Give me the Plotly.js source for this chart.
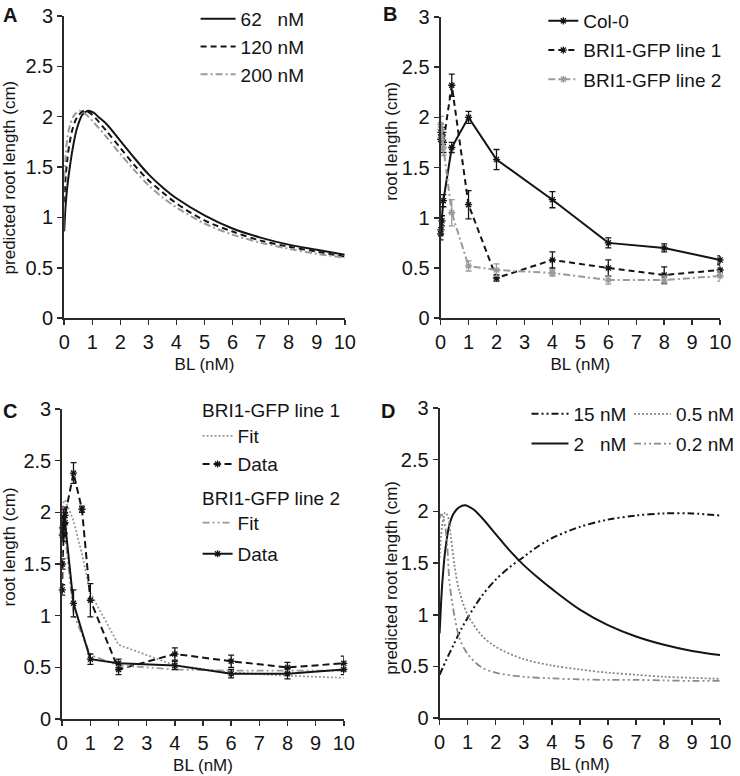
<!DOCTYPE html>
<html><head><meta charset="utf-8">
<script src="https://cdn.plot.ly/plotly-3.0.1.min.js"></script>
<style>html,body{margin:0;padding:0;background:#fff}#chart{width:740px;height:776px}</style>
</head><body><div id="chart"></div><script>
// ---------- Panel A: predicted root length ----------
const xA62 = [0, 0.05, 0.12, 0.2, 0.3, 0.45, 0.65, 0.85, 1.05, 1.25, 1.5, 2, 2.5, 3, 3.5, 4, 5, 6, 7, 8, 9, 10];
const yA62 = [0.86, 1.12, 1.33, 1.5, 1.68, 1.88, 2.02, 2.06, 2.04, 1.99, 1.93, 1.76, 1.59, 1.43, 1.30, 1.19, 1.02, 0.89, 0.80, 0.73, 0.68, 0.63];
const xA120 = [0, 0.05, 0.12, 0.2, 0.3, 0.45, 0.7, 0.9, 1.1, 1.5, 2, 2.5, 3, 3.5, 4, 5, 6, 7, 8, 9, 10];
const yA120 = [1.15, 1.4, 1.6, 1.75, 1.88, 1.99, 2.06, 2.04, 1.99, 1.86, 1.69, 1.52, 1.37, 1.25, 1.14, 0.97, 0.86, 0.77, 0.71, 0.66, 0.61];
const xA200 = [0, 0.05, 0.12, 0.2, 0.3, 0.4, 0.55, 0.75, 1, 1.5, 2, 2.5, 3, 3.5, 4, 5, 6, 7, 8, 9, 10];
const yA200 = [1.4, 1.62, 1.8, 1.91, 1.99, 2.03, 2.06, 2.03, 1.96, 1.8, 1.63, 1.47, 1.32, 1.2, 1.1, 0.94, 0.83, 0.75, 0.69, 0.64, 0.60];
const namesA = ['62\u00A0\u00A0\u00A0nM', '120 nM', '200 nM'];

// ---------- Panel B: measured root length ----------
const xB = [0, 0.01, 0.05, 0.1, 0.4, 1, 2, 4, 6, 8, 10];
const bCol0 = [0.84, 0.88, 0.97, 1.17, 1.70, 2.00, 1.58, 1.18, 0.75, 0.70, 0.58];
const bCol0Err = [0.06, 0.05, 0.05, 0.06, 0.05, 0.06, 0.10, 0.08, 0.05, 0.04, 0.04];
const bLine1 = [1.78, 1.85, 1.82, 1.75, 2.32, 1.13, 0.40, 0.58, 0.50, 0.43, 0.48];
const bLine1Err = [0.10, 0.08, 0.08, 0.10, 0.11, 0.14, 0.03, 0.08, 0.08, 0.08, 0.05];
const bLine2 = [1.93, 1.88, 1.80, 1.70, 1.05, 0.52, 0.48, 0.45, 0.38, 0.38, 0.42];
const bLine2Err = [0.08, 0.06, 0.06, 0.08, 0.13, 0.05, 0.06, 0.03, 0.04, 0.04, 0.05];
const namesB = ['Col-0', 'BRI1-GFP line 1', 'BRI1-GFP line 2'];

// ---------- Panel C: fit vs data ----------
const xC1 = [0, 0.01, 0.05, 0.1, 0.4, 0.7, 1, 2, 4, 6, 8, 10];
const cLine1Data = [1.25, 1.50, 1.78, 1.97, 2.38, 2.03, 1.15, 0.48, 0.63, 0.56, 0.50, 0.54];
const cLine1Err = [0.05, 0.05, 0.06, 0.08, 0.10, 0.03, 0.16, 0.05, 0.06, 0.06, 0.05, 0.07];
const cLine1Fit = [2.05, 2.07, 2.10, 2.12, 1.92, 1.60, 1.22, 0.72, 0.52, 0.45, 0.42, 0.40];
const xC2 = [0, 0.01, 0.05, 0.1, 0.4, 1, 2, 4, 6, 8, 10];
const cLine2Data = [1.78, 1.85, 1.95, 1.90, 1.12, 0.58, 0.54, 0.52, 0.44, 0.44, 0.48];
const cLine2Err = [0.06, 0.06, 0.08, 0.10, 0.13, 0.05, 0.04, 0.04, 0.04, 0.05, 0.05];
const cLine2Fit = [2.05, 2.00, 1.90, 1.78, 1.02, 0.62, 0.52, 0.48, 0.47, 0.47, 0.47];
const groupC = ['BRI1-GFP line 1', 'BRI1-GFP line 2'];

// ---------- Panel D: predicted root length ----------
const xD15 = [0, 0.25, 0.5, 0.75, 1, 1.5, 2, 2.5, 3, 3.5, 4, 5, 6, 7, 8, 9, 10];
const yD15 = [0.42, 0.57, 0.71, 0.85, 0.97, 1.18, 1.34, 1.46, 1.56, 1.66, 1.74, 1.85, 1.92, 1.96, 1.98, 1.98, 1.96];
const xD2 = [0, 0.05, 0.1, 0.2, 0.35, 0.5, 0.7, 0.9, 1.2, 1.5, 2, 2.5, 3, 3.5, 4, 5, 6, 7, 8, 9, 10];
const yD2 = [0.82, 1.10, 1.32, 1.62, 1.87, 1.98, 2.04, 2.06, 2.02, 1.94, 1.78, 1.62, 1.48, 1.36, 1.25, 1.05, 0.90, 0.79, 0.71, 0.65, 0.61];
const xD05 = [0, 0.05, 0.1, 0.2, 0.3, 0.4, 0.53, 0.7, 1, 1.5, 2, 3, 4, 5, 6, 7, 8, 9, 10];
const yD05 = [1.55, 1.75, 1.88, 1.99, 1.95, 1.76, 1.48, 1.23, 1.00, 0.80, 0.69, 0.57, 0.51, 0.47, 0.44, 0.42, 0.40, 0.39, 0.38];
const xD02 = [0, 0.05, 0.1, 0.2, 0.27, 0.35, 0.45, 0.55, 0.7, 1, 1.5, 2, 3, 4, 5, 6, 7, 8, 9, 10];
const yD02 = [1.93, 1.97, 1.96, 1.85, 1.68, 1.32, 1.12, 0.96, 0.78, 0.62, 0.49, 0.44, 0.40, 0.385, 0.375, 0.37, 0.37, 0.365, 0.36, 0.36];
const namesD = ['15 nM', '2\u00A0\u00A0\u00A0nM', '0.5 nM', '0.2 nM'];

const xTitle = 'BL (nM)';
const yTitlePred = 'predicted root length (cm)';
const yTitleRoot = 'root length (cm)';

// ---------- styles ----------
const BLACK = '#141414', GRAY = '#9a9a9a', GRAY2 = '#8a8a8a';
const FONT = 'Liberation Sans, Arial, Helvetica, sans-serif';
const W = 740, H = 776;
const px = v => v / W, py = v => 1 - v / H;

function curve(x, y, name, xa, ya, color, dash, legend, group, width) {
  return {x, y, name, xaxis: xa, yaxis: ya, type: 'scatter', mode: 'lines',
    line: {color, dash, width: width || 2, shape: 'spline', smoothing: 0.9},
    legend, legendgroup: group, cliponaxis: false, hoverinfo: 'skip'};
}
function data(x, y, err, name, xa, ya, color, dash, legend, group) {
  return {x, y, name, xaxis: xa, yaxis: ya, type: 'scatter', mode: 'lines+markers',
    line: {color, dash, width: 2},
    marker: {symbol: 'asterisk-open', size: 6, color, line: {color, width: 1.3}},
    error_y: {type: 'data', array: err, visible: true, color, thickness: 1.3, width: 3},
    legend, legendgroup: group, cliponaxis: false, hoverinfo: 'skip'};
}
function fit(x, y, name, xa, ya, color, dash, legend, group) {
  return {x, y, name, xaxis: xa, yaxis: ya, type: 'scatter', mode: 'lines',
    line: {color, dash, width: 1.8}, legend, legendgroup: group, cliponaxis: false, hoverinfo: 'skip'};
}

const dashDotDot = '7px,3px,2px,3px,2px,3px';
const traces = [
  curve(xA62, yA62, namesA[0], 'x', 'y', BLACK, 'solid', 'legend', 'a1'),
  curve(xA120, yA120, namesA[1], 'x', 'y', BLACK, '6px,4px', 'legend', 'a2'),
  curve(xA200, yA200, namesA[2], 'x', 'y', GRAY, '7px,3px,2px,3px', 'legend', 'a3'),

  data(xB, bCol0, bCol0Err, namesB[0], 'x2', 'y2', BLACK, 'solid', 'legend2', 'b1'),
  data(xB, bLine1, bLine1Err, namesB[1], 'x2', 'y2', BLACK, '6px,4px', 'legend2', 'b2'),
  data(xB, bLine2, bLine2Err, namesB[2], 'x2', 'y2', GRAY, '7px,3px,2px,3px', 'legend2', 'b3'),

  fit(xC1, cLine1Fit, 'Fit', 'x3', 'y3', GRAY, '2px,2px', 'legend3', 'c1'),
  data(xC1, cLine1Data, cLine1Err, 'Data', 'x3', 'y3', BLACK, '7px,4px', 'legend3', 'c2'),
  fit(xC2, cLine2Fit, 'Fit', 'x3', 'y3', GRAY, dashDotDot, 'legend6', 'c3'),
  data(xC2, cLine2Data, cLine2Err, 'Data', 'x3', 'y3', BLACK, 'solid', 'legend6', 'c4'),

  curve(xD15, yD15, namesD[0], 'x4', 'y4', BLACK, dashDotDot, 'legend4', 'd1'),
  curve(xD2, yD2, namesD[1], 'x4', 'y4', BLACK, 'solid', 'legend4', 'd2'),
  curve(xD05, yD05, namesD[2], 'x4', 'y4', GRAY2, '2px,2px', 'legend5', 'd3', 1.8),
  curve(xD02, yD02, namesD[3], 'x4', 'y4', GRAY2, dashDotDot, 'legend5', 'd4', 1.8),
];

function xax(dom, anchor) {
  return {domain: dom, anchor, range: [0, 10], dtick: 1, tick0: 0, showgrid: false, zeroline: false,
    showline: true, linecolor: '#2a2a2a', linewidth: 1.5, ticks: 'outside', ticklen: 5, tickwidth: 1.5,
    tickcolor: '#2a2a2a', tickfont: {size: 20, color: BLACK, family: FONT}, fixedrange: true,
    title: {text: xTitle, font: {size: 17, color: BLACK, family: FONT}, standoff: 6}};
}
function yax(dom, anchor) {
  return {domain: dom, anchor, range: [0, 3], dtick: 0.5, tick0: 0, showgrid: false, zeroline: false,
    showline: true, linecolor: '#2a2a2a', linewidth: 2, ticks: 'outside', ticklen: 5, tickwidth: 1.5,
    tickcolor: '#2a2a2a', tickfont: {size: 20, color: BLACK, family: FONT}, fixedrange: true};
}
function leg(x, y, iw, gap) {
  return {x: px(x), y: py(y), xanchor: 'left', yanchor: 'top', xref: 'paper', yref: 'paper',
    bgcolor: 'rgba(0,0,0,0)', borderwidth: 0, font: {size: 19, color: BLACK, family: FONT},
    itemwidth: iw, tracegroupgap: gap, orientation: 'v', traceorder: 'grouped'};
}
function ann(text, x, y, size, bold, angle, xanchor) {
  return {text: bold ? '<b>' + text + '</b>' : text, x: px(x), y: py(y), xref: 'paper', yref: 'paper',
    showarrow: false, xanchor: xanchor || 'center', yanchor: 'middle', textangle: angle || 0,
    font: {size, color: BLACK, family: FONT}};
}

const layout = {
  width: W, height: H, margin: {l: 0, r: 0, t: 0, b: 0},
  paper_bgcolor: '#fff', plot_bgcolor: '#fff',
  font: {family: FONT, color: BLACK},
  xaxis: xax([px(65), px(349)], 'y'), yaxis: yax([py(317), py(14)], 'x'),
  xaxis2: xax([px(446), px(729)], 'y2'), yaxis2: yax([py(317), py(15)], 'x2'),
  xaxis3: xax([px(63), px(348)], 'y3'), yaxis3: yax([py(719), py(408)], 'x3'),
  xaxis4: xax([px(445), px(729)], 'y4'), yaxis4: yax([py(718), py(407)], 'x4'),
  legend: leg(198, -2, 35, 0),
  legend2: leg(550, 0, 30, 1.5),
  legend3: leg(200, 416, 30, 0.5),
  legend6: leg(200, 503, 30, 3.5),
  legend4: leg(533, 394, 37, 2),
  legend5: leg(637, 394, 37, 2),
  annotations: [
    ann('A', 10, 13, 20, true), ann('B', 395, 12, 20, true),
    ann('C', 10, 410, 20, true), ann('D', 393, 410, 20, true),
    ann(yTitlePred, 10, 176, 17, false, -90), ann(yTitleRoot, 396, 140, 17, false, -90),
    ann(yTitleRoot, 10, 546, 17, false, -90), ann(yTitlePred, 396, 577, 17, false, -90),
    ann(groupC[0], 202, 410, 19, false, 0, 'left'), ann(groupC[1], 202, 498, 19, false, 0, 'left')
  ],
  showlegend: true
};
Plotly.newPlot('chart', traces, layout, {staticPlot: true, displayModeBar: false});
</script></body></html>
